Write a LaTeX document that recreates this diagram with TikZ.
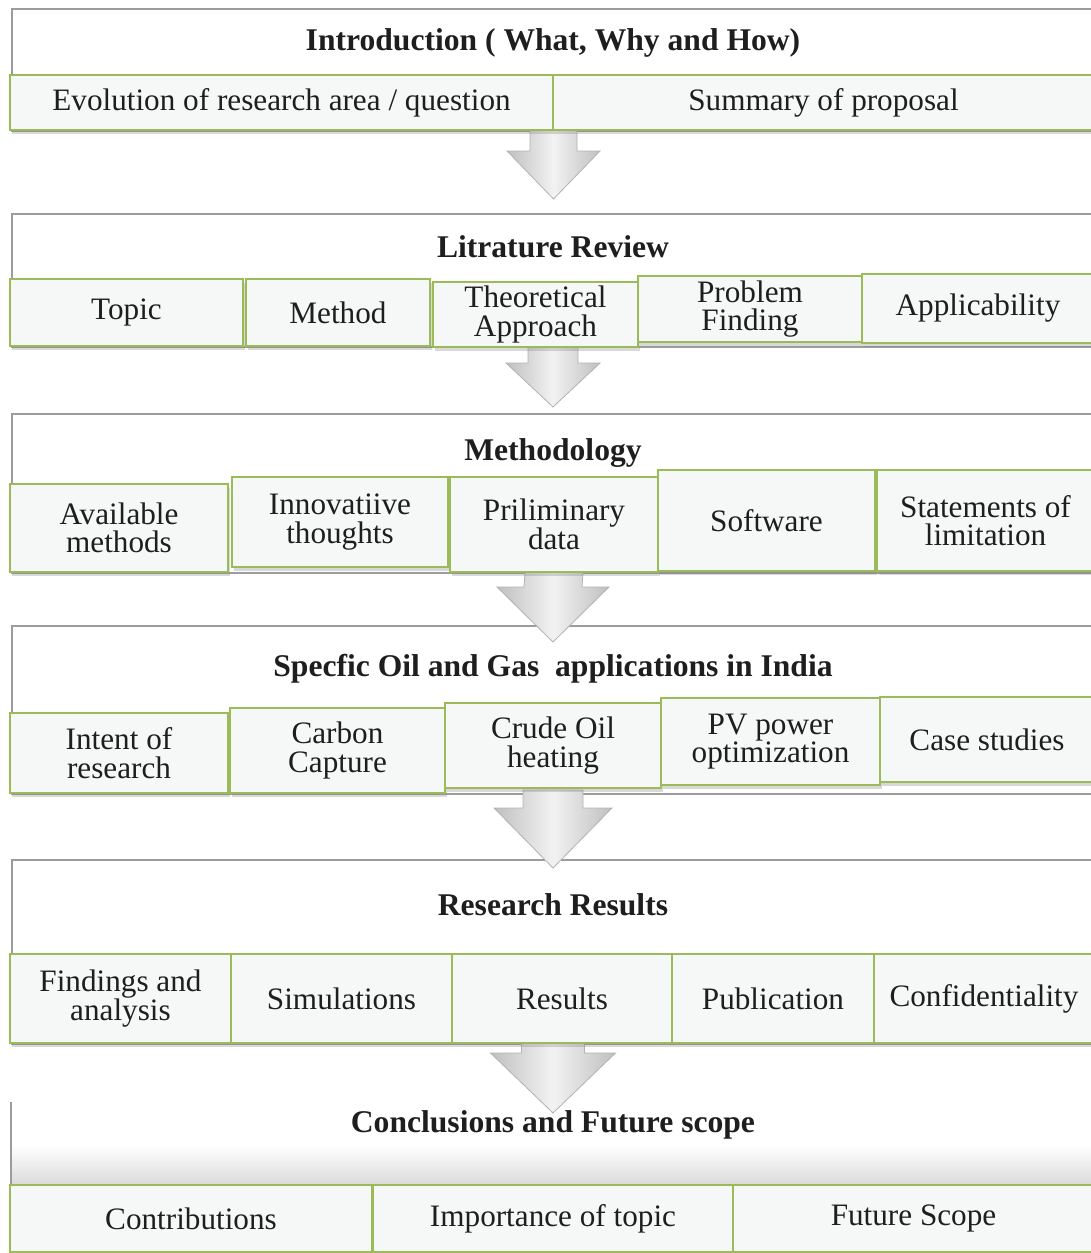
\documentclass[tikz,border=0pt]{standalone}
\usepackage{fontspec}
\setmainfont{Liberation Serif}
\usetikzlibrary{calc, shadows}
\definecolor{mOlive}{HTML}{9BBB59}
\definecolor{mPaper}{HTML}{F6F7F7}
\definecolor{mFrame}{HTML}{9C9C9C}
\definecolor{mInk}{HTML}{1E1E1E}
\newcommand{\px}{0.5pt}

\begin{document}
\begin{tikzpicture}[x=0.5pt, y=-0.5pt,
    headbox/.style={draw=mFrame, line width=0.8pt, fill=white, anchor=north west, inner sep=0pt,
      drop shadow={shadow xshift=0.4pt, shadow yshift=-0.8pt, opacity=0.15}},
    headtext/.style={font=\fontsize{15.8}{17}\selectfont\bfseries, text=mInk},
    subbox/.style={draw=mOlive, line width=1pt, fill=mPaper, align=center, inner sep=0pt,
      text=mInk, font=\fontsize{15.6}{14.2}\selectfont,
      drop shadow={shadow xshift=0.8pt, shadow yshift=-2.2pt, opacity=0.3}},
    flowarrow/.style n args={3}{draw=gray!60, line width=0.4pt,
      left color=gray!50, right color=gray!50, middle color=gray!10,
      to path={($(\tikztostart)+(-#1,0)$) -- ($(\tikztostart)+(#1,0)$)
        -- ($(\tikztotarget)+(#1,-#3)$) -- ($(\tikztotarget)+(#2,-#3)$) -- (\tikztotarget)
        -- ($(\tikztotarget)+(-#2,-#3)$) -- ($(\tikztotarget)+(-#1,-#3)$) -- cycle}}
  ]
  \useasboundingbox (0,0) rectangle (1091,1253);

  % section frames
  \foreach \nm/\ya/\yb in {h1/8/130, h2/213/346, h3/413/572, h4/625/793, h5/859/1043} {
    \node[headbox, minimum width=1090*\px, minimum height={(\yb-\ya)*\px}] (\nm) at (11,\ya) {};
  }
  \node[headbox, draw=none, top color=white, bottom color=gray!30, middle color=white,
    minimum width=1090*\px, minimum height=84*\px] (h6) at (11,1102) {};
  \draw[mFrame, line width=0.8pt] (h6.south west) -- (h6.north west);

  % section titles
  \node[headtext] (t1) at (553,43) {Introduction ( What, Why and How)};
  \node[headtext] (t2) at (553,247) {Litrature Review};
  \node[headtext] (t3) at (553,453) {Methodology};
  \node[headtext] (t4) at (553,669) {Specfic Oil and Gas~ applications in India};
  \node[headtext] (t5) at (553,905) {Research Results};
  \node[headtext] (t6) at (553,1125) {Conclusions and Future scope};

  % arrows between sections
  \coordinate (s1) at (553.5,130);  \coordinate (e1) at (553.5,199);
  \coordinate (s2) at (553,347);    \coordinate (e2) at (553,407);
  \coordinate (s3) at (554,572);    \coordinate (e3) at (553,642);
  \coordinate (s4) at (553,790);    \coordinate (e4) at (553,868);
  \coordinate (s5) at (553,1043);   \coordinate (e5) at (553,1113);
  \path[flowarrow={23.5}{46.5}{48}] (s1) to (e1);
  \path[flowarrow={25}{47}{44}] (s2) to (e2);
  \path[flowarrow={29}{56}{55}] (s3) to (e3);
  \path[flowarrow={30}{59}{60}] (s4) to (e4);
  \path[flowarrow={31.5}{62.5}{60}] (s5) to (e5);

  % items
  \foreach \nm/\xa/\ya/\xb/\yb/\txt in {
      ev/10/75/553/130/{Evolution of research area / question},
      sp/553/75/1094/130/Summary of proposal,
      tp/10/279/243/346/Topic,
      me/246/279/430/346/Method,
      ta/433/282/638/347/Theoretical\\Approach,
      pf/638/276/862/342/Problem\\Finding,
      ap/862/274/1094/343/Applicability,
      am/10/484/228/572/Available\\methods,
      it/232/477/448/567/Innovatiive\\thoughts,
      pd/450/477/658/572/Priliminary\\data,
      sw/658/470/875/571/Software,
      sl/877/470/1094/571/Statements of\\limitation,
      ir/10/713/228/793/Intent of\\research,
      cc/230/708/445/793/Carbon\\Capture,
      co/445/703/661/788/Crude Oil\\heating,
      pv/661/698/880/785/PV power\\optimization,
      cs/880/697/1094/782/Case studies,
      fa/10/954/231/1043/Findings and\\analysis,
      si/231/954/452/1043/Simulations,
      re/452/954/672/1043/Results,
      pu/672/954/874/1043/Publication,
      cf/874/954/1094/1043/Confidentiality,
      ct/10/1185/372/1252/Contributions,
      im/373/1185/733/1252/Importance of topic,
      fs/733/1185/1094/1252/Future Scope} {
    \node[subbox, minimum width={(\xb-\xa)*\px}, minimum height={(\yb-\ya)*\px}]
      (\nm) at ({(\xa+\xb)/2},{(\ya+\yb)/2}) {\txt};
  }
\end{tikzpicture}
\end{document}
